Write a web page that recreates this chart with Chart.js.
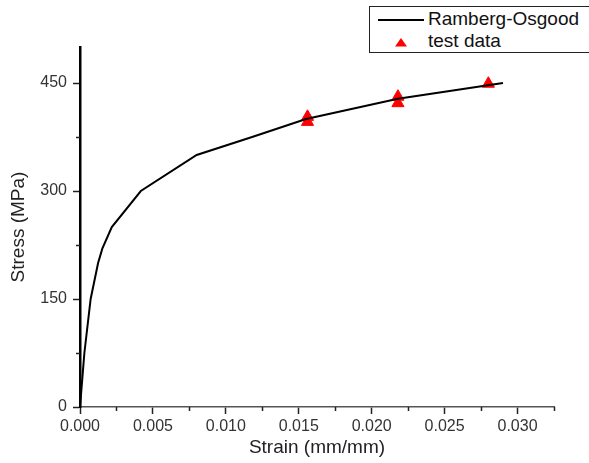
<!DOCTYPE html>
<html>
<head>
<meta charset="utf-8">
<script src="https://cdn.jsdelivr.net/npm/chart.js@4.4.1/dist/chart.umd.min.js"></script>
<style>
    html, body { margin: 0; padding: 0; background: #fff; overflow: hidden; }
    #wrap { position: relative; width: 589px; height: 463px; }
    #legend {
        position: absolute; left: 369px; top: 6px; width: 240px; height: 45px;
        border: 1px solid #222; background: #fff;
        font-family: "Liberation Sans", Arial, sans-serif; font-size: 19px; color: #111;
    }
    #legend .item { position: absolute; left: 58px; line-height: 21px; white-space: nowrap; }
    #legend .line { position: absolute; left: 8px; top: 12px; width: 46px; height: 2px; background: #000; }
    #legend svg { position: absolute; left: 25px; top: 31px; }
</style>
</head>
<body>
<div id="wrap">
    <canvas id="chartCanvas"></canvas>
    <div id="legend">
        <span class="line"></span>
        <span class="item" style="top:1px">Ramberg-Osgood</span>
        <svg width="12" height="9"><polygon points="0,8.5 6,0 12,8.5" fill="#ff0000"/></svg>
        <span class="item" style="top:23px">test data</span>
    </div>
</div>
<script>
// curva Ramberg-Osgood
const strainCurve = [0, 0.0003, 0.00073, 0.00124, 0.00153, 0.00218, 0.00417, 0.008, 0.0118, 0.0155, 0.0218, 0.029];
const stressCurve = [0, 75, 150, 200, 220, 250, 300, 350, 375, 400, 428, 450];

// datos de ensayo
const testStrain = [0.0156, 0.0156, 0.0218, 0.0218, 0.0280];
const testStress = [403, 396, 431, 422, 449];

// ejes
const xMajorTicks = [0, 0.005, 0.010, 0.015, 0.020, 0.025, 0.030];
const xMinorTicks = [0.0025, 0.0075, 0.0125, 0.0175, 0.0225, 0.0275, 0.0325];
const yMajorTicks = [0, 150, 300, 450];
const yMinorTicks = [75, 225, 375];

const FONT = "'Liberation Sans', Arial, sans-serif";

// marcas menores mas cortas que las principales
const minorTicksPlugin = {
    id: "minorTicks",
    afterDraw(chart) {
        const { ctx, chartArea, scales } = chart;
        ctx.save();
        ctx.strokeStyle = "#222";
        ctx.lineWidth = 1.5;
        ctx.beginPath();
        xMinorTicks.forEach(v => {
            const px = Math.round(scales.x.getPixelForValue(v)) + 0.5;
            ctx.moveTo(px, chartArea.bottom);
            ctx.lineTo(px, chartArea.bottom + 4);
        });
        yMinorTicks.forEach(v => {
            const py = Math.round(scales.y.getPixelForValue(v)) + 0.5;
            ctx.moveTo(chartArea.left - 4, py);
            ctx.lineTo(chartArea.left, py);
        });
        ctx.stroke();
        ctx.restore();
    }
};

document.addEventListener("DOMContentLoaded", function () {
    const chartCanvas = document.getElementById("chartCanvas").getContext("2d");

    new Chart(chartCanvas, {
        type: "scatter",
        data: {
            datasets: [{
                label: "Ramberg-Osgood",
                data: strainCurve.map((x, i) => ({ x: x, y: stressCurve[i] })),
                showLine: true,
                borderColor: "#000",
                borderWidth: 2,
                tension: 0,
                pointRadius: 0
            }, {
                label: "test data",
                data: testStrain.map((x, i) => ({ x: x, y: testStress[i] })),
                pointStyle: "triangle",
                pointRadius: 7,
                backgroundColor: "#ff0000",
                borderColor: "#ff0000",
                borderWidth: 1
            }]
        },
        options: {
            responsive: true,
            maintainAspectRatio: false,
            animation: false,
            events: [],
            layout: { padding: { top: 47, right: 35, left: 0, bottom: 0 } },
            plugins: {
                legend: { display: false },
                tooltip: { enabled: false }
            },
            scales: {
                x: {
                    type: "linear",
                    min: 0,
                    max: 0.0325,
                    afterFit: s => { s.height = 56; },
                    afterBuildTicks: s => { s.ticks = xMajorTicks.map(v => ({ value: v })); },
                    border: { color: "#555", width: 1.5 },
                    grid: { drawOnChartArea: false, tickLength: 7, tickColor: "#222", tickWidth: 1.5 },
                    ticks: {
                        padding: 3,
                        color: "#333",
                        font: { family: FONT, size: 16 },
                        maxRotation: 0,
                        callback: v => v.toFixed(3)
                    },
                    title: {
                        display: true,
                        text: "Strain (mm/mm)",
                        color: "#222",
                        font: { family: FONT, size: 19 },
                        padding: { top: 0, bottom: 4 }
                    }
                },
                y: {
                    type: "linear",
                    min: 0,
                    max: 500,
                    afterFit: s => { s.width = 80; },
                    afterBuildTicks: s => { s.ticks = yMajorTicks.map(v => ({ value: v })); },
                    border: { color: "#000", width: 2.5 },
                    grid: { drawOnChartArea: false, tickLength: 7, tickColor: "#222", tickWidth: 1.5 },
                    ticks: {
                        padding: 6,
                        color: "#333",
                        font: { family: FONT, size: 16 },
                        callback: v => String(v)
                    },
                    title: {
                        display: true,
                        text: "Stress (MPa)",
                        color: "#222",
                        font: { family: FONT, size: 19 },
                        padding: { top: 7, bottom: 0 }
                    }
                }
            }
        },
        plugins: [minorTicksPlugin]
    });
});
</script>
</body>
</html>
